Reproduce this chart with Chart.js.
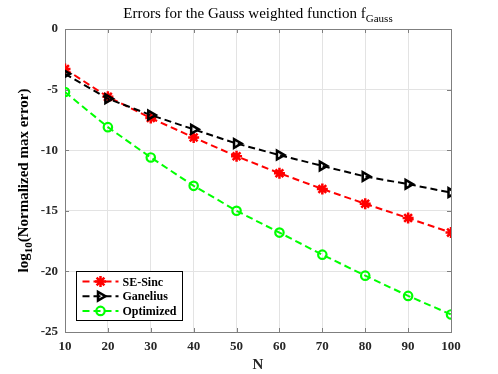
<!DOCTYPE html>
<html>
<head>
<meta charset="utf-8">
<script src="https://cdn.jsdelivr.net/npm/chart.js@4.4.0/dist/chart.umd.min.js"></script>
<style>
  html, body { margin: 0; padding: 0; background: #fff; }
  #wrap { width: 498px; height: 374px; }
</style>
</head>
<body>
<div id="wrap"><canvas id="errChart" width="498" height="374"></canvas></div>
<script>
// values: log10 of the normalized max error
const nValues = [10, 20, 30, 40, 50, 60, 70, 80, 90, 100];
const seSinc = [-3.3, -5.6, -7.35, -8.95, -10.5, -11.9, -13.2, -14.42, -15.6, -16.8];
const ganelius = [-3.7, -5.75, -7.1, -8.28, -9.45, -10.4, -11.3, -12.17, -12.8, -13.5];
const optimized = [-5.2, -8.1, -10.6, -12.94, -15.0, -16.8, -18.62, -20.35, -22.02, -23.55];
const seriesNames = ["SE-Sinc", "Ganelius", "Optimized"];
const xRange = [10, 100];
const yRange = [-25, 0];

const SERIF = '"Liberation Serif", "Times New Roman", serif';
const drawPoint = Chart.helpers.drawPoint;

// box + inward tick marks, drawn under the lines like matlab
const framePlugin = {
    id: "frame",
    beforeDatasetsDraw(chart) {
        const { ctx, chartArea: a, scales: { x, y } } = chart;
        ctx.save();
        ctx.strokeStyle = "#7f7f7f";
        ctx.lineWidth = 1;
        ctx.beginPath();
        x.ticks.forEach(t => {
            const px = Math.round(x.getPixelForValue(t.value)) + 0.5;
            ctx.moveTo(px, a.bottom); ctx.lineTo(px, a.bottom - 4);
            ctx.moveTo(px, a.top); ctx.lineTo(px, a.top + 4);
        });
        y.ticks.forEach(t => {
            const py = Math.round(y.getPixelForValue(t.value)) + 0.5;
            ctx.moveTo(a.left, py); ctx.lineTo(a.left + 4, py);
            ctx.moveTo(a.right, py); ctx.lineTo(a.right - 4, py);
        });
        ctx.stroke();
        ctx.strokeRect(Math.round(a.left) + 0.5, Math.round(a.top) + 0.5,
            Math.round(a.right - a.left), Math.round(a.bottom - a.top));
        ctx.restore();
    }
};

// title and y label need real subscripts
function drawSubText(ctx, parts, x, y) {
    // parts: [text, font, dy]
    let total = 0;
    parts.forEach(p => { ctx.font = p[1]; total += ctx.measureText(p[0]).width; });
    let cx = x - total / 2;
    parts.forEach(p => {
        ctx.font = p[1];
        ctx.fillText(p[0], cx, y + p[2]);
        cx += ctx.measureText(p[0]).width;
    });
}

const labelsPlugin = {
    id: "labels",
    afterDraw(chart) {
        const { ctx, chartArea: a } = chart;
        ctx.save();
        ctx.fillStyle = "#000";
        ctx.textAlign = "left";
        ctx.textBaseline = "alphabetic";
        drawSubText(ctx, [
            ["Errors for the Gauss weighted function f", "15px " + SERIF, 0],
            ["Gauss", "11px " + SERIF, 4]
        ], (a.left + a.right) / 2, 18);

        ctx.translate(28, (a.top + a.bottom) / 2);
        ctx.rotate(-Math.PI / 2);
        drawSubText(ctx, [
            ["log", "bold 15px " + SERIF, 0],
            ["10", "bold 11px " + SERIF, 4],
            ["(Normalized max error)", "bold 15px " + SERIF, 0]
        ], 0, 0);
        ctx.restore();
    }
};

const legendPlugin = {
    id: "lineLegend",
    afterDraw(chart) {
        const { ctx, chartArea: a } = chart;
        const boxW = 106, boxH = 49, rowH = 14.7;
        const bx = Math.round(a.left) + 11.5;
        const by = Math.round(a.bottom) - 11.5 - boxH;
        ctx.save();
        ctx.fillStyle = "#fff";
        ctx.fillRect(bx, by, boxW, boxH);
        ctx.strokeStyle = "#000";
        ctx.lineWidth = 1;
        ctx.strokeRect(bx, by, boxW, boxH);
        chart.data.datasets.forEach((ds, i) => {
            const cy = by + 10 + i * rowH;
            ctx.strokeStyle = ds.borderColor;
            ctx.lineWidth = ds.borderWidth;
            ctx.setLineDash(ds.borderDash);
            ctx.beginPath();
            ctx.moveTo(bx + 6, cy);
            ctx.lineTo(bx + 42, cy);
            ctx.stroke();
            ctx.setLineDash([]);
            ctx.strokeStyle = ds.pointBorderColor;
            ctx.fillStyle = ds.pointBackgroundColor;
            ctx.lineWidth = ds.pointBorderWidth;
            drawPoint(ctx, {
                pointStyle: ds.pointStyle,
                rotation: ds.pointRotation || 0,
                radius: ds.pointRadius,
                borderWidth: ds.pointBorderWidth
            }, bx + 24, cy);
            ctx.fillStyle = "#000";
            ctx.font = "bold 12px " + SERIF;
            ctx.textAlign = "left";
            ctx.textBaseline = "middle";
            ctx.fillText(ds.label, bx + 46, cy + 1);
        });
        ctx.restore();
    }
};

function lineSet(label, data, color, style, radius, extra) {
    return Object.assign({
        label: label,
        data: data,
        borderColor: color,
        borderWidth: 2,
        borderDash: [7, 4],
        pointStyle: style,
        pointRadius: radius,
        pointHoverRadius: radius,
        pointBorderColor: color,
        pointBackgroundColor: "rgba(0,0,0,0)",
        pointBorderWidth: 2.5,
        tension: 0,
        fill: false
    }, extra || {});
}

const ctx = document.getElementById("errChart").getContext("2d");
new Chart(ctx, {
    type: "line",
    data: {
        labels: nValues,
        datasets: [
            lineSet(seriesNames[0], seSinc, "#ff0000", "star", 5.5, { order: 2 }),
            lineSet(seriesNames[1], ganelius, "#000000", "triangle", 5, { order: 1, pointRotation: 90 }),
            lineSet(seriesNames[2], optimized, "#00ff00", "circle", 4.2, { order: 0, pointBorderWidth: 2.2 })
        ]
    },
    options: {
        responsive: false,
        animation: false,
        devicePixelRatio: 1,
        layout: { padding: { top: 29, right: 47, left: 0, bottom: 0 } },
        plugins: {
            legend: { display: false },
            tooltip: { enabled: false },
            title: { display: false }
        },
        scales: {
            x: {
                type: "linear",
                min: xRange[0],
                max: xRange[1],
                afterFit: s => { s.height = 42; },
                ticks: {
                    stepSize: 10,
                    padding: 7,
                    color: "#262626",
                    font: { family: SERIF, size: 13, weight: "bold" }
                },
                grid: { color: "#e3e3e3", drawTicks: false },
                border: { display: false },
                title: {
                    display: true,
                    text: "N",
                    color: "#262626",
                    padding: { top: 0, bottom: 0 },
                    font: { family: SERIF, size: 15, weight: "bold" }
                }
            },
            y: {
                type: "linear",
                min: yRange[0],
                max: yRange[1],
                afterFit: s => { s.width = 65; },
                ticks: {
                    stepSize: 5,
                    padding: 7,
                    color: "#262626",
                    font: { family: SERIF, size: 13, weight: "bold" }
                },
                grid: { color: "#e3e3e3", drawTicks: false },
                border: { display: false }
            }
        }
    },
    plugins: [framePlugin, labelsPlugin, legendPlugin]
});
</script>
</body>
</html>
